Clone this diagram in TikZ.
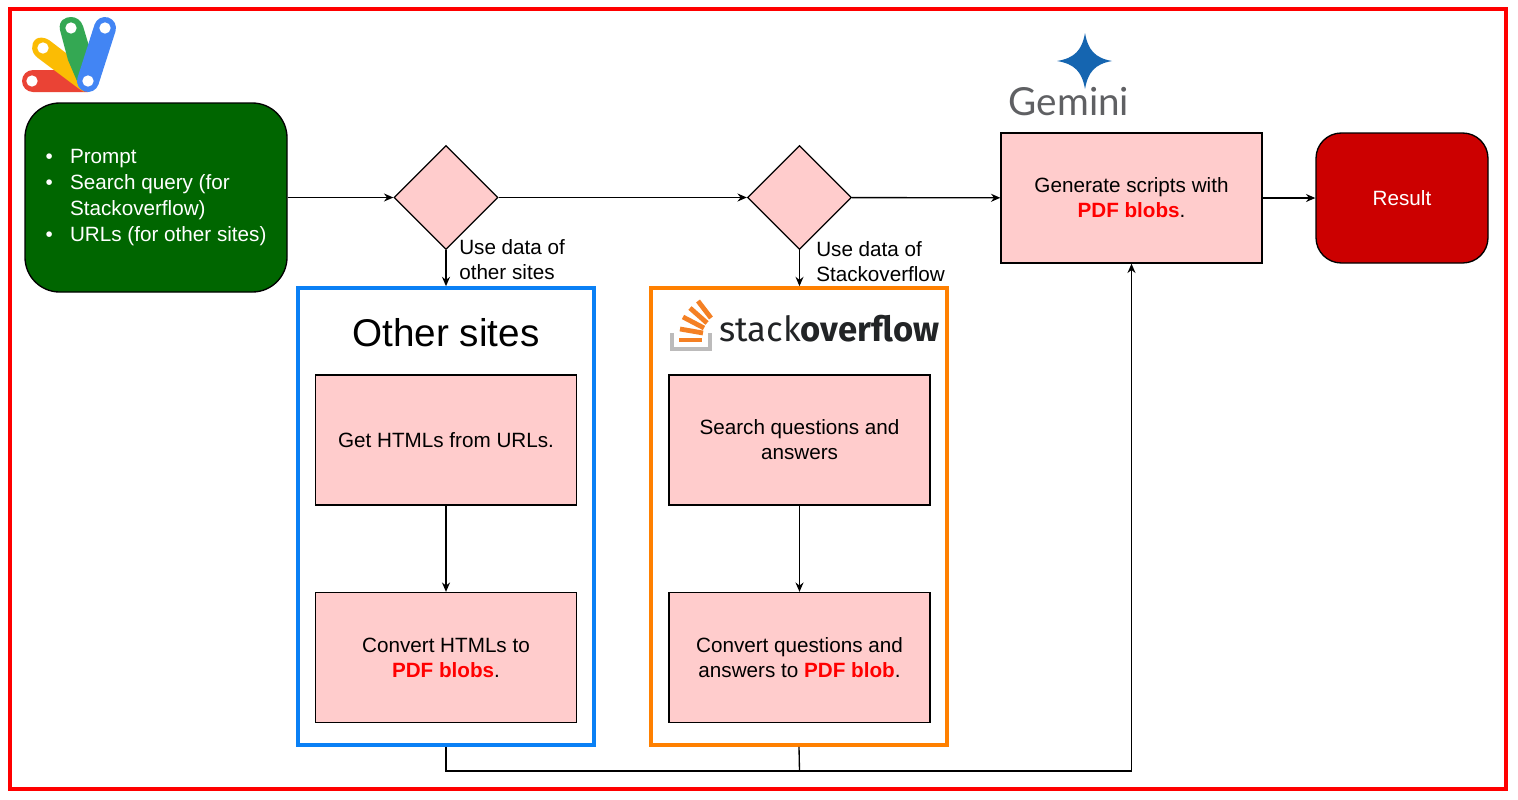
\documentclass[tikz,border=0pt]{standalone}
\usepackage{fontspec}
\setmainfont{Liberation Sans}
\newfontfamily\gemfont{Lato}
\newfontfamily\sofont{Fira Sans}
\usetikzlibrary{arrows.meta,shapes.geometric}
\definecolor{pinkfill}{HTML}{FFCCCC}
\definecolor{darkgreen}{HTML}{006600}
\definecolor{resred}{HTML}{CC0000}
\definecolor{framered}{HTML}{FF0000}
\definecolor{frameblue}{HTML}{0A80F5}
\definecolor{frameorange}{HTML}{FF8000}
\definecolor{gred}{HTML}{EA4335}
\definecolor{gyellow}{HTML}{FBBC04}
\definecolor{ggreen}{HTML}{34A853}
\definecolor{gblue}{HTML}{4285F4}
\definecolor{gemblue}{HTML}{1565B0}
\definecolor{gemgrey}{HTML}{5F6063}
\definecolor{sogrey}{HTML}{BCBBBB}
\definecolor{soorange}{HTML}{F48024}
\definecolor{sodark}{HTML}{222426}
\newcommand{\pdfb}[1]{\textcolor{red}{\textbf{#1}}}
\tikzset{
  x=0.75pt,y=-0.75pt,
  base/.style={font=\fontsize{15.5}{18.7}\selectfont,text=black,align=center},
  pinkbox/.style={base,draw=black,line width=1pt,fill=pinkfill,minimum width=195.75pt,minimum height=97.5pt,inner sep=2pt},
  decision/.style={diamond,draw=black,line width=1pt,fill=pinkfill,minimum width=78pt,minimum height=78pt,inner sep=0pt},
  frame/.style={draw,line width=3pt,minimum width=222pt,minimum height=342.5pt,inner sep=0pt},
  conn/.style={draw=black,line width=1pt,-{Stealth[length=7pt,width=6pt]}},
  plain/.style={draw=black,line width=1pt},
  lbl/.style={base,anchor=west,align=left,inner sep=0pt},
  pill/.style={line width=16.5pt,line cap=round},
  hole/.style={circle,fill=white,inner sep=0pt,minimum size=8.5pt},
  sobar/.style={draw=soorange,line width=3.6pt},
}
\begin{document}
\begin{tikzpicture}
\useasboundingbox (0,0) rectangle (1518,800);
\fill[white] (0,0) rectangle (1518,800);
\node[draw=framered,line width=3pt,minimum width=1122pt,minimum height=584.5pt,inner sep=0pt] (outer) at (758,399) {};

% Apps Script logo
\fill[gred] (33,70) -- (55,70) .. controls (62,70) and (66,73) .. (72,78) -- (88,92) -- (33,92) arc (90:270:11) -- cycle;
\fill[gyellow] (36,39) .. controls (39,37) and (44,37) .. (49,40) -- (66,53) .. controls (72,58) and (74,68) .. (78,85) -- (84,92) -- (78,88) -- (38,58) .. controls (31,53) and (30,44) .. (36,39) -- cycle;
\fill[ggreen] (60,30) .. controls (58,20) and (66,17) .. (71,17) .. controls (76,17) and (81,20) .. (83,26) -- (89,46) -- (80,88) -- (68,60) -- cycle;
\draw[pill,gblue] (105,28) -- (88,81);
\node[hole] (h1) at (32,81) {};
\node[hole] (h2) at (43,48) {};
\node[hole] (h3) at (71,28) {};
\node[hole] (h4) at (105,28) {};
\node[hole] (h5) at (88,81) {};

% Gemini logo
\fill[gemblue] (1085,33) .. controls (1088,50) and (1095,58) .. (1112,61) .. controls (1095,64) and (1088,72) .. (1085,89) .. controls (1082,72) and (1075,64) .. (1057,61) .. controls (1075,58) and (1082,50) .. (1085,33) -- cycle;
\node[font=\gemfont\fontsize{29}{29}\selectfont,text=gemgrey,inner sep=0pt] (gemtext) at (1069,102) {Gemini};

% Boxes
\node[base,draw=black,line width=1pt,fill=darkgreen,rounded corners=26pt,minimum width=196.5pt,minimum height=141.75pt,inner sep=0pt,text=white] (start) at (156,197.5) {%
  \begin{tabular}{@{}l@{\hspace{13pt}}l@{}}
  \textbullet & Prompt\\[0.6pt]
  \textbullet & Search query (for\\[0.6pt]
   & Stackoverflow)\\[0.6pt]
  \textbullet & URLs (for other sites)
  \end{tabular}};
\node[decision] (d1) at (446,197.5) {};
\node[decision] (d2) at (799.5,197.5) {};
\node[pinkbox] (gem) at (1131.5,198) {Generate scripts with\\\pdfb{PDF blobs}.};
\node[base,draw=black,line width=1pt,fill=resred,rounded corners=19pt,minimum width=129pt,minimum height=97.5pt,text=white] (res) at (1402,198) {Result};

\node[frame,draw=frameblue] (fo) at (446,516.5) {};
\node[frame,draw=frameorange] (fs) at (799,516.5) {};
\node[font=\fontsize{29}{29}\selectfont,inner sep=0pt] (ot) at (446,333) {Other sites};

% Stack Overflow logo
\draw[draw=sogrey,line width=3.4pt] (672,333) -- (672,349) -- (710,349) -- (710,333);
\draw[sobar] (679,340) -- (702,340);
\draw[sobar] (680,329) -- (703,333);
\draw[sobar] (683,317) -- (704,328);
\draw[sobar] (690,308) -- (707,323);
\draw[sobar] (698,301) -- (711,318);
\node[font=\sofont\fontsize{26}{26}\selectfont,text=sodark,inner sep=0pt,anchor=base west] (sotext) at (719,341) {stack\textbf{overflow}};

\node[pinkbox] (a1) at (446,440) {Get HTMLs from URLs.};
\node[pinkbox] (a2) at (446,657.5) {Convert HTMLs to\\\pdfb{PDF blobs}.};
\node[pinkbox] (b1) at (799.5,440) {Search questions and\\answers};
\node[pinkbox] (b2) at (799.5,657.5) {Convert questions and\\answers to \pdfb{PDF blob}.};

\node[lbl] (l1) at (459,260) {Use data of\\other sites};
\node[lbl] (l2) at (816,261.5) {Use data of\\Stackoverflow};

% Connectors
\draw[conn] (start) -- (d1);
\draw[conn] (d1) -- (d2);
\draw[conn] (d2) -- (gem);
\draw[conn] (gem) -- (res);
\draw[conn] (d1) -- (d1 |- fo.north);
\draw[conn] (d2) -- (d2 |- fs.north);
\draw[conn] (a1) -- (a2);
\draw[conn] (b1) -- (b2);
\coordinate (j1) at (446,771);
\coordinate (j2) at (799.5,771);
\coordinate (j3) at (1131.5,771);
\draw[plain] (fo.south) -- (j1) -- (j2);
\draw[plain] (fs.south) -- (j2);
\draw[conn] (j2) -- (j3) -- (gem.south);
\end{tikzpicture}
\end{document}
